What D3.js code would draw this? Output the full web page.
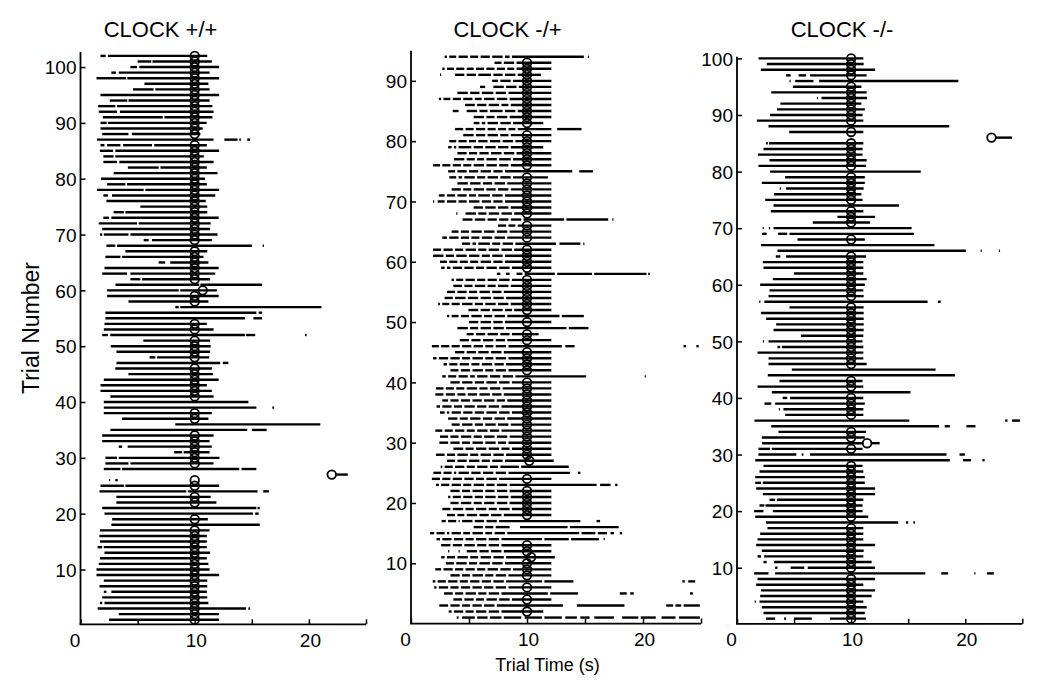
<!DOCTYPE html>
<html>
<head>
<meta charset="utf-8">
<script src="https://cdn.jsdelivr.net/npm/d3@7"></script>
<style>
  html, body { margin: 0; padding: 0; background: #fff; }
  svg { display: block; }
  text { font-family: "Liberation Sans", Arial, Helvetica, sans-serif; fill: #000; }
</style>
</head>
<body>
<svg id="chart" width="1050" height="686"></svg>
<script>
// ---------------- DATA ----------------
const panelTitles = ["CLOCK +/+", "CLOCK -/+", "CLOCK -/-"];
const xTickValues = [0, 5, 10, 15, 20, 25];
const xTickLabels = ["0", "", "10", "", "20", ""];
const yTicksWT  = [10, 20, 30, 40, 50, 60, 70, 80, 90, 100];
const yTicksHet = [10, 20, 30, 40, 50, 60, 70, 80, 90];
const yTicksMut = [10, 20, 30, 40, 50, 60, 70, 80, 90, 100];
const yLabel = "Trial Number";
const xLabel = "Trial Time (s)";

// lick bouts per trial: "trial: start-end start-end ..." (seconds)
const licksWT = [
"102: 1.75-2.2 2.4-11.1","101: 5.0-6.2 6.3-11.5","100: 4.37-4.95 5.15-12.14","99: 2.7-3.1 3.35-11.3",
"98: 1.4-4.0 4.1-12.14","97: 5.6-11.2","96: 4.6-6.4 6.55-11.3","95: 1.75-12.14","94: 2.56-4.1 4.2-11.3",
"93: 1.55-3.05 3.2-11.55","92: 1.6-3.2 3.45-11.65","91: 1.95-7.2 7.35-11.55","90: 1.75-2.3 2.4-11.05",
"89: 1.75-10.7","88: 1.9-4.2 4.5-10.5","87: 1.45-11.65 12.6-13.75 13.9-14.05 14.6-14.85",
"86: 1.75-2.1 2.33-3.5 3.73-6.26 6.46-11.06","85: 1.7-2.85 3.05-12.14","84: 2.0-2.9 3.05-10.8",
"83: 2.0-3.2 3.4-11.65","82: 4.15-6.85 7.0-11.06","81: 2.9-12.0","80: 1.8-10.9","79: 2.33-3.93 4.07-11.06",
"78: 1.45-5.53 5.68-12.14","77: 2.0-2.4 2.76-11.8","76: 2.27-10.97","75: 5.24-11.1","74: 2.9-3.8 3.93-11.1",
"73: 2.0-2.5 2.7-12.1","72: 1.6-4.95 5.1-11.4","71: 1.9-11.35","70: 1.7-1.9 2.04-4.2 4.37-12.0",
"69: 5.53-5.97 6.26-11.5","68: 2.27-3.05 3.2-15.0 15.95-16.07","67: 3.93-11.1","66: 2.18-3.5 3.64-10.77",
"65: 6.84-7.42 7.86-11.2","64: 2.1-12.1","63: 1.9-4.07 4.37-11.8","62: 4.37-5.24 5.39-11.35",
"61: 3.06-10.4 10.5-15.9","60: 2.33-8.6 8.73-11.94","59: 2.33-12.1","58: 4.2-11.2","57: 8.3-8.6 8.73-21.1",
"56: 2.18-15.4 15.6-15.9","55: 2.18-14.4 15.14-15.9","54: 2.1-11.06","53: 2.04-11.65",
"52: 1.9-2.4 2.6-14.4 14.5-15.3 19.65-19.8","51: 5.5-11.35","50: 2.65-11.4","49: 3.15-11.35",
"48: 6.05-6.55 6.7-11.27","47: 3.15-12.23 12.46-12.95","46: 3.05-11.5","45: 4.2-11.6","44: 2.04-12.1",
"43: 1.75-11.06","42: 1.75-11.5","41: 2.62-11.65","40: 2.04-14.7","39: 2.04-15.4 16.8-16.95",
"38: 2.04-11.5","37: 3.64-11.2","36: 8.3-21.0","35: 2.62-14.6 15.0-16.3","34: 1.9-11.65","33: 1.9-11.3",
"32: 3.35-3.64 4.13-11.5","31: 8.2-8.9 9.03-11.3","30: 2.18-3.2 3.35-12.17","29: 2.18-4.2 4.37-11.65",
"28: 2.04-3.5 3.64-13.9 14.1-15.4","27: 22.4-23.4","26: 2.5-2.6 3.05-3.26","25: 1.75-3.8 3.93-12.14",
"24: 1.66-9.26 9.4-15.5 16.0-16.5","23: 3.14-11.4","22: 3.14-11.9","21: 1.9-15.4 15.5-15.7",
"20: 2.1-15.1 15.3-15.6","19: 2.77-11.15","18: 2.7-15.7","17: 1.7-11.3","16: 1.66-11.06","15: 1.7-11.06",
"14: 1.5-1.9 2.04-11.06","13: 2.1-11.35","12: 1.7-11.06","11: 1.6-11.2","10: 1.4-11.3","9: 1.4-12.14",
"8: 2.04-11.1","7: 1.66-11.1","6: 2.04-2.27 2.7-11.06","5: 1.9-11.1","4: 1.7-1.9 2.1-11.2",
"3: 1.5-14.5 14.7-14.85","2: 3.35-12.14","1: 2.5-12.14"
];
const licksHet = [
"94: 2.9-3.1 3.3-3.9 4.1-4.9 5.1-5.8 6.0-6.8 7.0-7.9 8.1-8.5 8.7-14.9 15.25-15.35",
"93: 7.2-7.8 8.0-8.9 9.1-12.1",
"92: 2.7-2.9 3.1-3.7 3.9-4.6 4.8-5.4 5.6-6.3 6.5-7.2 7.4-8.1 8.3-8.9 9.1-12.1",
"91: 2.5-2.6 3.8-4.6 4.8-5.6 5.8-6.9 7.1-7.9 8.1-9.0 9.2-11.2",
"90: 7.0-7.5 7.7-8.6 8.8-12.1",
"89: 5.95-6.4 7.1-8.0 8.2-9.1 9.3-12.1",
"88: 4.0-4.9 5.1-5.9 6.1-7.1 7.3-8.2 8.4-12.1",
"87: 2.4-2.6 2.8-3.4 3.6-4.3 4.5-5.3 5.5-6.1 6.3-7.2 7.4-8.3 8.5-12.1",
"86: 4.65-5.5 5.7-6.5 6.7-7.6 7.8-8.4 8.6-12.1",
"85: 3.6-4.1 4.8-5.7 5.9-6.6 6.8-7.9 8.1-9.0 9.2-12.1",
"84: 5.4-6.3 6.5-7.2 7.4-8.3 8.5-12.1",
"83: 5.4-5.9 6.1-6.4 6.6-7.5 7.7-8.6 8.8-11.4",
"82: 3.8-4.5 4.7-5.4 5.6-6.4 6.6-7.3 7.5-8.2 8.4-9.0 9.2-12.1 12.6-14.7",
"81: 4.5-5.4 5.6-6.4 6.6-7.5 7.7-8.4 8.6-12.1",
"80: 3.3-3.9 4.1-4.8 5.0-5.6 5.8-6.6 6.8-7.7 7.9-8.8 9.0-12.1",
"79: 3.2-3.5 3.7-3.9 4.1-5.2 5.4-6.2 6.4-7.3 7.5-8.4 8.6-11.4",
"78: 4.0-4.8 5.0-5.7 5.9-6.7 6.9-7.8 8.0-8.9 9.1-12.1",
"77: 3.7-4.6 4.8-5.5 5.7-6.3 6.5-7.4 7.6-8.6 8.8-12.1",
"76: 1.9-2.5 2.7-3.4 3.6-4.3 4.5-5.2 5.4-6.3 6.5-7.4 7.6-8.4 8.6-12.1",
"75: 3.2-3.8 4.0-4.8 5.0-5.8 6.0-6.9 7.1-7.9 8.1-13.9 14.5-15.7",
"74: 3.3-3.9 4.1-4.4 4.6-5.5 5.7-6.4 6.6-7.5 7.7-8.6 8.8-11.8",
"73: 4.0-4.9 5.1-6.0 6.2-7.0 7.2-8.1 8.3-12.1",
"72: 3.5-4.3 4.5-5.2 5.4-6.3 6.5-7.3 7.5-8.4 8.6-12.1",
"71: 2.4-2.9 3.1-3.8 4.0-4.8 5.0-5.6 5.8-6.8 7.0-7.9 8.1-12.1",
"70: 1.9-2.0 2.3-2.9 3.1-3.9 4.1-4.8 5.0-5.9 6.1-6.9 7.1-7.9 8.1-12.1",
"69: 5.4-6.2 6.4-7.3 7.5-8.4 8.6-12.1",
"68: 3.9-4.0 4.7-5.6 5.8-6.5 6.7-7.6 7.8-8.7 8.9-12.1",
"67: 4.45-5.3 5.5-6.4 6.6-7.4 7.6-8.4 8.6-9.5 9.7-13.2 13.4-17.0 17.35-17.45",
"66: 7.5-8.2 8.4-9.0 9.2-12.1",
"65: 3.5-4.1 4.3-5.0 5.2-6.1 6.3-7.2 7.4-8.3 8.5-12.1",
"64: 2.7-3.1 3.3-4.1 4.3-5.0 5.2-5.9 6.1-7.0 7.2-8.1 8.3-12.1",
"63: 4.4-5.1 5.3-5.6 5.8-6.8 7.0-7.7 7.9-8.8 9.0-12.5 12.8-14.6 14.85-14.95",
"62: 1.9-2.6 2.8-3.6 3.8-4.5 4.7-5.6 5.8-6.5 6.7-7.6 7.8-8.7 8.9-12.1",
"61: 1.9-2.8 3.0-3.7 3.9-4.8 5.0-5.9 6.1-6.8 7.0-7.9 8.1-12.1",
"60: 2.5-3.1 3.3-4.0 4.2-4.9 5.1-5.8 6.0-6.9 7.1-7.9 8.1-12.1",
"59: 2.6-2.9 3.1-3.4 3.6-4.4 4.6-5.4 5.6-6.3 6.5-7.4 7.6-8.5 8.7-12.1",
"58: 7.4-7.7 8.2-8.5 9.1-9.6 9.8-12.4 12.6-15.6 15.8-20.3 20.45-20.6",
"57: 3.5-3.7 3.9-4.5 4.7-5.5 5.7-6.4 6.6-7.4 7.6-8.5 8.7-12.1",
"56: 3.65-4.4 4.6-5.3 5.5-6.4 6.6-7.3 7.5-8.4 8.6-12.1",
"55: 3.1-3.8 4.0-4.8 5.0-5.7 5.9-6.8 7.0-7.8 8.0-12.1",
"54: 2.9-3.6 3.8-4.7 4.9-5.8 6.0-6.9 7.1-8.0 8.2-12.1",
"53: 2.35-2.5 2.7-3.3 3.5-4.2 4.4-5.3 5.5-6.2 6.4-7.3 7.5-8.4 8.6-12.1",
"52: 4.95-5.8 6.0-6.8 7.0-7.9 8.1-8.7 8.9-12.1",
"51: 3.1-3.3 3.5-4.1 4.3-5.0 5.2-6.1 6.3-7.0 7.2-8.1 8.3-12.8 13.0-14.9",
"50: 5.0-5.8 6.0-6.9 7.1-7.9 8.1-12.1",
"49: 4.0-4.9 5.1-5.8 6.0-6.9 7.1-8.0 8.2-13.4 13.6-15.3",
"48: 4.8-5.4 5.6-6.4 6.6-7.5 7.7-8.5 8.7-11.0",
"47: 4.2-5.0 5.2-6.0 6.2-7.1 7.3-8.1 8.3-12.1",
"46: 1.8-2.4 2.6-3.3 3.5-4.2 4.4-5.2 5.4-6.2 6.4-7.1 7.3-8.2 8.4-13.0 13.3-14.1 23.5-23.7 24.6-24.8",
"45: 3.8-4.6 4.8-5.6 5.8-6.7 6.9-7.8 8.0-12.1",
"44: 1.9-2.2 2.4-3.2 3.4-4.2 4.4-5.1 5.3-6.2 6.4-7.1 7.3-8.2 8.4-12.1",
"43: 2.8-3.1 3.3-4.0 4.2-5.0 5.2-5.9 6.1-7.0 7.2-8.0 8.2-12.1",
"42: 3.4-4.1 4.3-5.1 5.3-6.2 6.4-7.1 7.3-8.2 8.4-12.1",
"41: 2.7-3.0 3.2-3.9 4.1-4.9 5.1-5.5 5.7-6.6 6.8-7.7 7.9-8.8 9.0-15.1 20.15-20.25",
"40: 3.4-4.2 4.4-5.3 5.5-6.3 6.5-7.4 7.6-8.5 8.7-12.1",
"39: 2.15-2.8 3.0-3.7 3.9-4.6 4.8-5.7 5.9-6.6 6.8-7.7 7.9-12.1",
"38: 2.1-2.8 3.0-3.8 4.0-4.7 4.9-5.7 5.9-6.8 7.0-7.8 8.0-12.1",
"37: 2.7-3.2 3.4-4.1 4.3-5.1 5.3-6.1 6.3-7.2 7.4-8.1 8.3-12.1",
"36: 2.2-2.5 2.7-3.5 3.7-4.4 4.6-5.5 5.7-6.5 6.7-7.6 7.8-12.1",
"35: 2.5-2.9 3.1-3.3 3.5-4.3 4.5-5.3 5.5-6.3 6.5-7.4 7.6-8.5 8.7-12.1",
"34: 3.2-4.0 4.2-4.9 5.1-6.0 6.2-7.0 7.2-8.1 8.3-12.1",
"33: 3.5-4.2 4.4-5.3 5.5-6.2 6.4-7.3 7.5-8.4 8.6-12.1",
"32: 2.1-2.7 2.9-3.6 3.8-4.6 4.8-5.5 5.7-6.6 6.8-7.6 7.8-12.1",
"31: 2.5-3.2 3.4-4.1 4.3-5.2 5.4-6.1 6.3-7.2 7.4-8.3 8.5-12.1",
"30: 2.44-3.2 3.4-4.2 4.4-5.1 5.3-6.2 6.4-7.3 7.5-8.2 8.4-12.1",
"29: 3.65-4.5 4.7-5.4 5.6-6.5 6.7-7.6 7.8-8.5 8.7-12.1",
"28: 2.15-2.9 3.1-3.8 4.0-4.9 5.1-5.8 6.0-6.9 7.1-8.0 8.2-12.1",
"27: 3.1-3.8 4.0-4.8 5.0-5.9 6.1-6.8 7.0-7.9 8.1-12.3",
"26: 2.56-2.7 2.9-3.6 3.8-4.6 4.8-5.5 5.7-6.6 6.8-7.5 7.7-9.3 9.5-13.6",
"25: 1.93-2.6 2.8-3.5 3.7-3.9 4.1-5.0 5.2-6.0 6.2-7.1 7.3-8.2 8.4-13.7 14.4-14.6",
"24: 1.8-2.5 2.7-3.4 3.6-4.4 4.6-5.4 5.6-6.3 6.5-7.4 7.6-12.1",
"23: 2.16-2.4 2.6-3.3 3.5-4.3 4.5-5.2 5.4-6.3 6.5-7.2 7.4-8.3 8.5-16.0 16.3-17.2 17.6-17.8",
"22: 3.4-4.2 4.4-5.1 5.3-6.2 6.4-7.2 7.4-8.3 8.5-12.1",
"21: 3.2-3.4 3.6-4.3 4.5-5.3 5.5-6.2 6.4-7.3 7.5-8.4 8.6-12.1",
"20: 3.4-4.1 4.3-5.2 5.4-6.1 6.3-7.2 7.4-8.3 8.5-12.1",
"19: 2.7-3.4 3.6-4.5 4.7-5.4 5.6-6.5 6.7-7.4 7.6-8.5 8.7-12.1",
"18: 3.1-3.8 4.0-4.6 4.8-5.7 5.9-6.7 6.9-7.8 8.0-12.1",
"17: 2.64-3.0 3.2-3.9 4.1-4.2 4.4-5.3 5.5-6.3 6.5-7.4 7.6-14.6 16.0-16.3",
"16: 5.4-6.2 6.4-7.1 7.3-8.5 9.4-13.5 13.7-17.9",
"15: 1.64-2.0 2.2-2.9 3.1-3.3 3.5-4.3 4.5-5.1 5.3-6.2 6.4-7.0 7.2-8.1 8.3-14.5 14.7-15.9 16.1-16.9 17.2-17.5 18.0-18.2",
"14: 2.2-2.5 2.7-3.5 3.7-4.5 4.7-5.4 5.6-6.5 6.7-7.6 7.8-11.3 11.5-13.6 13.8-16.2 16.6-16.7",
"13: 2.6-3.4 3.6-4.4 4.6-5.5 5.7-6.5 6.7-7.6 7.8-12.1",
"12: 3.2-3.3 4.1-4.2 4.8-5.7 5.9-6.7 6.9-7.8 8.0-12.1",
"11: 2.6-2.9 3.1-3.8 4.0-4.9 5.1-5.8 6.0-6.9 7.1-8.0 8.2-12.4",
"10: 3.0-3.7 3.9-4.8 5.0-5.7 5.9-6.8 7.0-7.9 8.1-12.1",
"9: 2.1-2.6 2.8-3.6 3.8-4.5 4.7-5.5 5.7-6.4 6.6-7.5 7.7-8.6 8.8-12.1",
"8: 3.4-4.2 4.4-5.1 5.3-6.2 6.4-7.1 7.3-8.2 8.4-12.1",
"7: 1.87-2.1 2.3-3.0 3.2-4.0 4.2-4.9 5.1-5.9 6.1-6.9 7.1-8.0 8.2-11.3 11.5-14.0 23.4-23.6 23.9-24.5",
"6: 2.0-2.2 2.4-3.2 3.4-4.1 4.3-5.1 5.3-6.1 6.3-7.1 7.3-8.2 8.4-12.1",
"5: 2.85-3.6 3.8-4.5 4.7-5.6 5.8-6.5 6.7-7.6 7.8-11.8 12.0-14.4 18.0-18.6 18.9-19.2 24.05-24.3",
"4: 3.65-4.4 4.6-5.4 5.6-6.3 6.5-7.4 7.6-8.5 8.7-12.1",
"3: 2.44-3.2 3.4-4.2 4.4-5.1 5.3-6.1 6.3-7.2 7.4-13.1 14.3-18.4 22.0-22.6 22.8-23.3 23.5-24.9",
"2: 3.25-3.5 3.7-4.5 4.7-5.4 5.6-6.5 6.7-7.6 7.8-11.4",
"1: 3.94-4.1 4.4-5.5 5.7-6.6 6.8-7.8 8.0-9.5 9.8-11.3 11.5-13.0 13.3-14.3 14.6-15.4 15.8-17.5 18.2-19.6 19.8-21.1 21.6-22.8 23.1-24.9"
];
const licksMut = [
"100: 1.89-11.07","99: 2.61-11.1","98: 2.09-12.1","97: 4.3-4.7 5.4-6.05 6.4-11.36","96: 4.6-4.7 5.1-6.7 7.2-19.4",
"95: 4.9-10.9","94: 3.0-11.36","93: 7.0-7.1 7.4-11.4","92: 3.8-10.9","91: 3.5-11.2","90: 2.9-11.0",
"89: 1.74-11.07","88: 2.76-18.6","87: 4.57-11.07","86: 22.7-24.1","85: 2.55-2.7 2.8-11.07","84: 2.32-11.0",
"83: 1.83-11.0","82: 2.85-11.36","81: 1.88-11.3","80: 2.9-16.1","79: 4.22-11.2","78: 2.17-11.2",
"77: 3.75-3.85 4.3-11.1","76: 3.25-10.9","75: 2.47-11.0","74: 3.2-14.2","73: 2.96-11.07","72: 8.8-12.1",
"71: 6.64-11.65","70: 2.25-2.35 2.8-2.9 3.2-15.3","69: 2.2-2.6 3.6-4.4 4.6-15.5","68: 5.3-11.2","67: 2.1-17.3",
"66: 3.55-20.05 21.35-21.45 22.95-23.05","65: 3.4-3.8 4.3-11.3","64: 2.26-11.07","63: 2.32-11.07","62: 5.0-11.07",
"61: 3.14-11.36","60: 2.03-11.2","59: 2.85-11.07","58: 2.76-11.1","57: 1.95-2.05 2.4-16.7 17.6-17.85",
"56: 4.6-11.1","55: 2.1-11.1","54: 2.55-11.1","53: 3.43-11.1","52: 3.2-11.1","51: 5.6-11.07",
"50: 2.27-2.37 2.76-11.0","49: 3.55-3.78 3.93-11.07","48: 1.8-11.07","47: 2.76-11.07","46: 2.76-11.36",
"45: 4.8-17.4","44: 2.7-19.1","43: 3.72-11.0","42: 1.8-11.07","41: 3.05-15.2","40: 4.0-4.4 4.65-11.07",
"39: 2.41-3.0 3.34-11.2","38: 3.67-3.77 4.07-11.07","37: 4.22-11.07","36: 1.53-15.1 23.5-23.7 24.1-24.8",
"35: 3.0-17.7 18.2-18.65 20.1-20.9","34: 3.63-11.3","33: 2.17-11.2","32: 2.2-11.0 11.75-12.5",
"31: 1.88-2.9 3.05-11.0","30: 1.88-5.2 5.67-5.82 6.4-18.36 19.5-19.97","29: 1.6-18.65 19.8-20.5 21.5-21.7",
"28: 2.32-11.0","27: 1.97-11.07","26: 1.6-11.2","25: 1.6-2.1 2.26-11.2","24: 1.68-12.1","23: 2.26-12.1",
"22: 2.85-3.34 3.5-11.07","21: 1.97-2.4 2.5-11.0","20: 1.5-2.32 3.14-11.0","19: 1.6-11.5",
"18: 2.55-14.13 14.8-15.0 15.45-15.6","17: 2.67-11.07","16: 2.03-11.07","15: 1.8-11.07","14: 1.68-12.1",
"13: 2.17-11.1","12: 1.8-2.1 2.38-11.07","11: 2.32-2.6 3.25-11.8","10: 3.34-3.55 4.7-5.9 6.2-12.1",
"9: 1.5-2.76 3.34-16.5 17.9-18.5 20.8-20.9 21.9-22.5","8: 1.8-12.1","7: 1.68-11.07","6: 2.1-12.1",
"5: 2.03-11.8","4: 1.55-1.65 1.97-11.07","3: 2.17-11.36","2: 2.32-11.2","1: 2.55-3.34 4.13-4.3 5.0-6.55 8.15-11.3"
];

// reward deliveries: [trial, time (s)]
const rewardsWT = [
[102,10],[101,10],[100,10],[99,10],[98,10],[97,10],[96,10],[95,10],[94,10],[93,10],[92,10],[91,10],[90,10],[89,10],[88,10],
[86,10],[85,10],[84,10],[83,10],[82,10],[81,10],[80,10],[79,10],[78,10],[77,10],[76,10],[75,10],[74,10],[73,10],[72,10],
[71,10],[70,10],[69,10],[67,10],[66,10],[65,10],[64,10],[63,10],[62,10],[60,10.7],[59,10],[58,10],[54,10],[53,10],
[51,10],[50,10],[49,10],[48,10],[46,10],[45,10],[44,10],[43,10],[42,10],[41,10],[38,10],[37,10],[34,10],[33,10],
[32,10],[31,10],[30,10],[29,10],[27,22.0],[26,10],[25,10],[23,10],[22,10],[19,10],[17,10],[16,10],[15,10],[14,10],
[13,10],[12,10],[11,10],[10,10],[9,10],[8,10],[7,10],[6,10],[5,10],[4,10],[3,10],[2,10],[1,10]
];
const rewardsHet = [
[93,10],[92,10],[91,10],[90,10],[89,10],[88,10],[87,10],[86,10],[85,10],[84,10],[83,10],[81,10],[80,10],[79,10],
[78,10],[77,10],[76,10],[74,10],[73,10],[72,10],[71,10],[70,10],[69,10],[68,10],[66,10],[65,10],[64,10],[62,10],
[61,10],[60,10],[59,10],[57,10],[56,10],[55,10],[54,10],[53,10],[52,10],[50,10],[48,10],[47,10],[45,10],[44,10],
[43,10],[42,10],[40,10],[39,10],[38,10],[37,10],[36,10],[35,10],[34,10],[33,10],[32,10],[31,10],[30,10],[29,10],
[28,10],[27,10.2],[24,10],[22,10],[21,10],[20,10],[19,10],[18,10],[13,10],[12,10],[11,10.35],[10,10],[9,10],
[8,10],[6,10],[4,10],[2,10]
];
const rewardsMut = [
[100,10],[99,10],[98,10],[97,10],[95,10],[94,10],[93,10],[92,10],[91,10],[90,10],[89,10],[87,10],[86,22.3],
[85,10],[84,10],[83,10],[82,10],[81,10],[79,10],[78,10],[77,10],[76,10],[75,10],[73,10],[72,10],[71,10],[68,10],
[65,10],[64,10],[63,10],[62,10],[61,10],[60,10],[59,10],[58,10],[56,10],[55,10],[54,10],[53,10],[52,10],[51,10],
[50,10],[49,10],[48,10],[47,10],[46,10],[43,10],[42,10],[40,10],[39,10],[38,10],[37,10],[34,10],[33,10],[32,11.4],
[31,10],[28,10],[27,10],[26,10],[25,10],[24,10],[23,10],[22,10],[21,10],[20,10],[19,10],[17,10],[16,10],[15,10],
[14,10],[13,10],[12,10],[11,10],[10,10],[8,10],[7,10],[6,10],[5,10],[4,10],[3,10],[2,10],[1,10]
];

// ---------------- LAYOUT ----------------
const panels = [
  { title: panelTitles[0], licks: licksWT,  rewards: rewardsWT,  yTicks: yTicksWT,  yMax: 102.7,
    x0: 80.5, x1: 366, yBottom: 625.3, yTop: 52, axisY: 624.3, titleX: 160.5 },
  { title: panelTitles[1], licks: licksHet, rewards: rewardsHet, yTicks: yTicksHet, yMax: 95,
    x0: 411, x1: 701, yBottom: 623.6, yTop: 50.7, axisY: 623.6, titleX: 507.5 },
  { title: panelTitles[2], licks: licksMut, rewards: rewardsMut, yTicks: yTicksMut, yMax: 100.3,
    x0: 737, x1: 1022.3, yBottom: 624.3, yTop: 56.7, axisY: 623.8, titleX: 842 }
];

const svg = d3.select("#chart");

function parseLicks(rows) {
  const segs = [];
  rows.forEach(r => {
    const [tr, rest] = r.split(":");
    const trial = +tr;
    rest.trim().split(/\s+/).forEach(s => {
      const [a, b] = s.split("-").map(Number);
      segs.push({ trial, start: a, end: b });
    });
  });
  return segs;
}

panels.forEach(p => {
  const x = d3.scaleLinear().domain([0, 25]).range([p.x0, p.x1]);
  const y = d3.scaleLinear().domain([0, p.yMax]).range([p.yBottom, p.yTop]);
  const g = svg.append("g");

  // lick bouts
  g.append("g").selectAll("line")
    .data(parseLicks(p.licks))
    .join("line")
    .attr("x1", d => x(d.start)).attr("x2", d => x(d.end))
    .attr("y1", d => y(d.trial)).attr("y2", d => y(d.trial))
    .attr("stroke", "#000").attr("stroke-width", 2.4);

  // rewards
  g.append("g").selectAll("circle")
    .data(p.rewards)
    .join("circle")
    .attr("cx", d => x(d[1])).attr("cy", d => y(d[0]))
    .attr("r", 4.3)
    .attr("fill", "none").attr("stroke", "#000").attr("stroke-width", 1.8);

  // x axis
  const xAxis = d3.axisBottom(x).tickValues(xTickValues).tickSizeInner(-5).tickSizeOuter(0)
    .tickFormat((d, i) => xTickLabels[i]);
  const gx = g.append("g").attr("transform", `translate(0,${p.axisY})`).call(xAxis);
  gx.select(".domain").attr("stroke", "#000").attr("stroke-width", 1.8)
    .attr("d", `M${p.x0 - 1},0H${p.x1}`);
  gx.selectAll(".tick line").attr("stroke", "#000").attr("stroke-width", 1.5);
  gx.selectAll(".tick text")
    .attr("font-size", 19).attr("font-family", "Liberation Sans, Arial, sans-serif")
    .attr("y", 9).attr("dy", "0.71em")
    .attr("dx", d => d === 0 ? -6 : 1);

  // y axis
  const yAxis = d3.axisLeft(y).tickValues(p.yTicks).tickSizeInner(-5).tickSizeOuter(0);
  const gy = g.append("g").attr("transform", `translate(${p.x0},0)`).call(yAxis);
  gy.select(".domain").attr("stroke", "#000").attr("stroke-width", 1.8)
    .attr("d", `M0,${p.yTop}V${p.axisY}`);
  gy.selectAll(".tick line").attr("stroke", "#000").attr("stroke-width", 1.5);
  gy.selectAll(".tick text")
    .attr("font-size", 19).attr("font-family", "Liberation Sans, Arial, sans-serif")
    .attr("x", -4).attr("dy", "0.35em");

  // title
  svg.append("text")
    .attr("x", p.titleX).attr("y", 37)
    .attr("text-anchor", "middle")
    .attr("font-size", 22)
    .text(p.title);
});

// axis labels
svg.append("text")
  .attr("transform", "translate(38.5,328) rotate(-90)")
  .attr("text-anchor", "middle")
  .attr("font-size", 23)
  .text(yLabel);

svg.append("text")
  .attr("x", 547.5).attr("y", 671)
  .attr("text-anchor", "middle")
  .attr("font-size", 18)
  .text(xLabel);
</script>
</body>
</html>
